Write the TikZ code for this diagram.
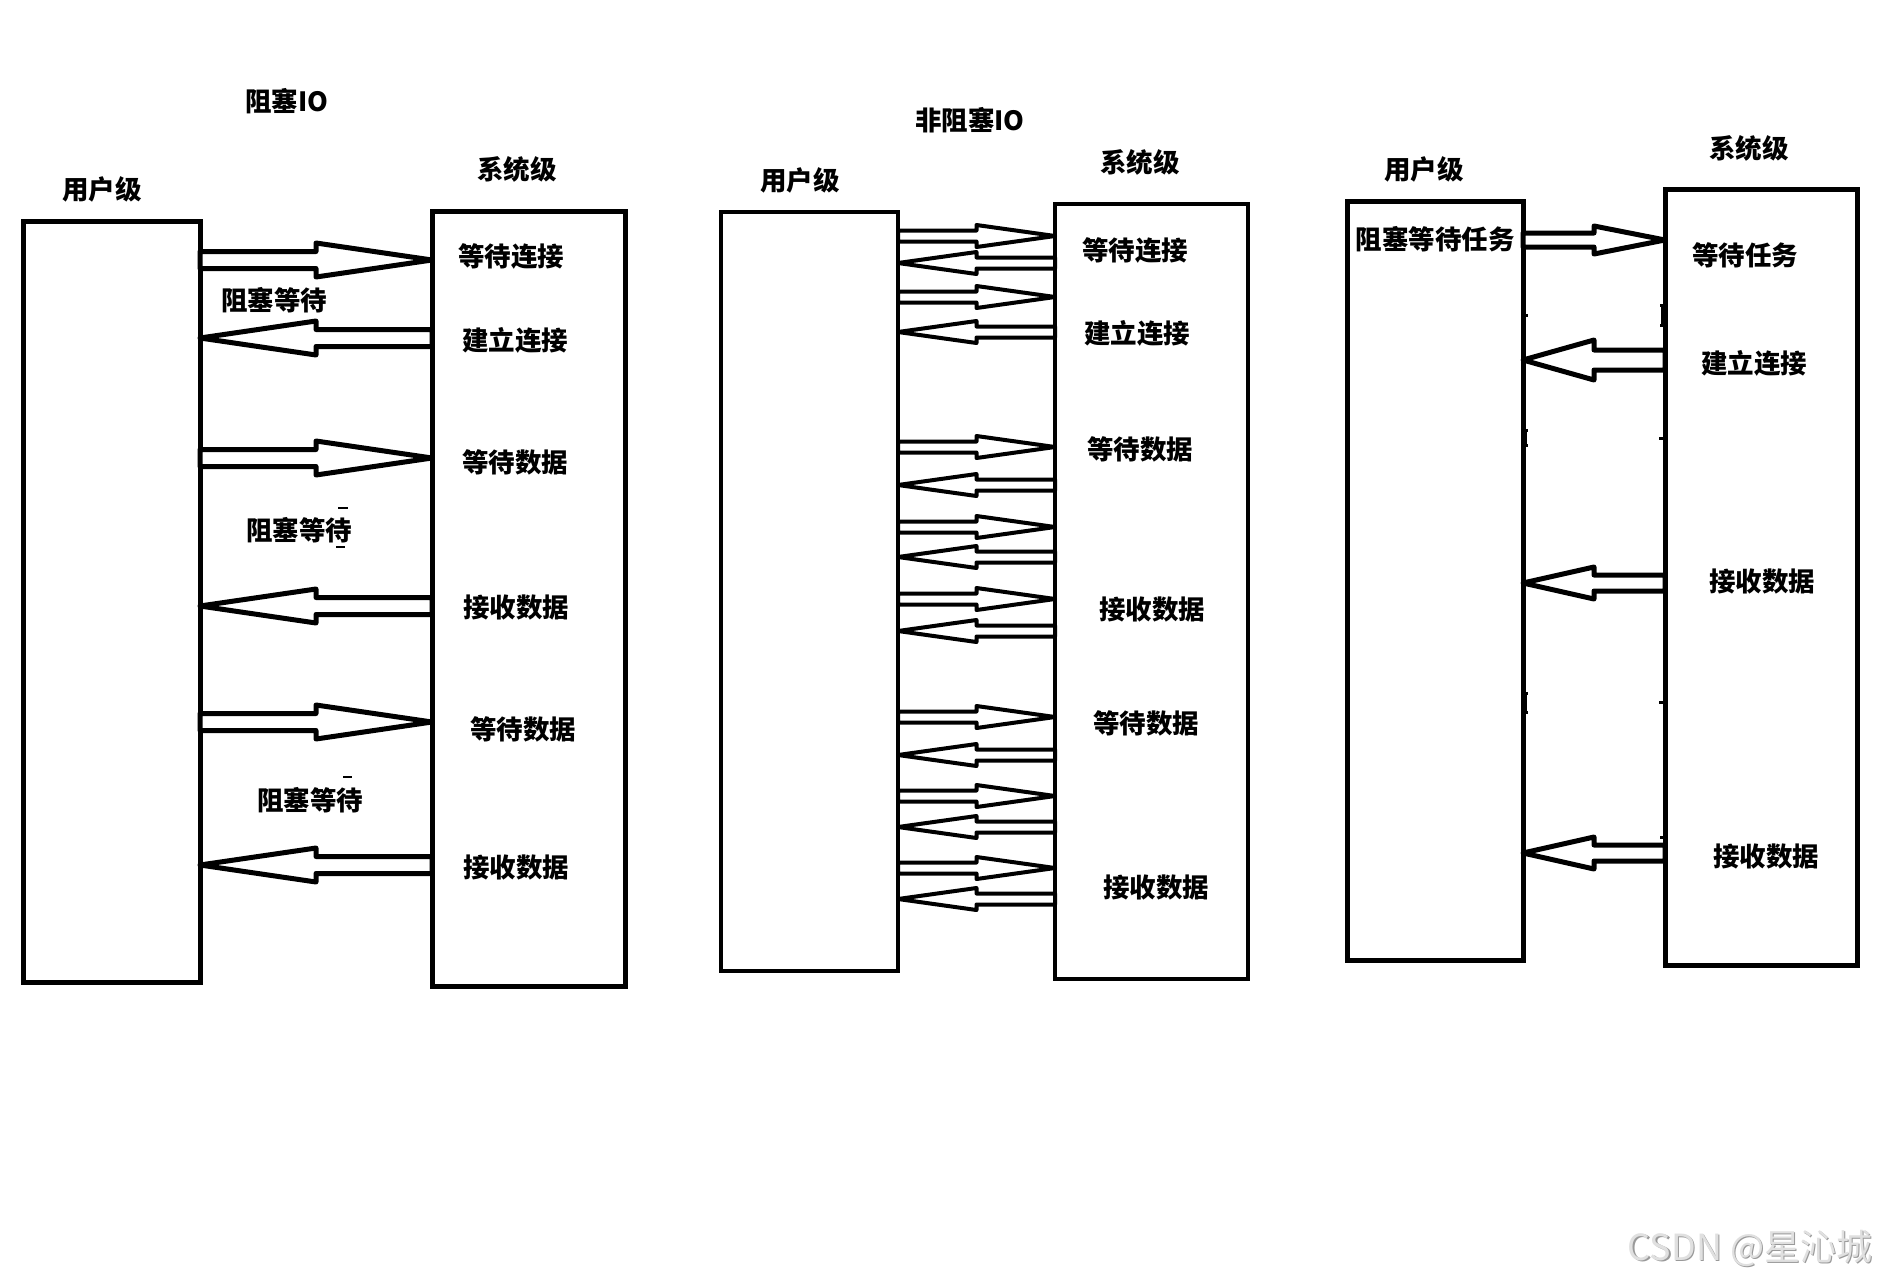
\documentclass[tikz,border=0pt]{standalone}
\usepackage{fontspec}
\newfontfamily\cjk{Noto Sans CJK SC}
\usetikzlibrary{calc}
\newcommand{\blockarr}[6]{%
  \path[barr=#1] let \p1=(#2), \p2=(#3), \p3=(0,#4), \p4=($(#2)!.5!(#3)$) in
    (\x1,\y3+#5) -- (\x4,\y3+#5) -- (\x4,\y3+#6) -- (\x2,\y3) -- (\x4,\y3-#6) -- (\x4,\y3-#5) -- (\x1,\y3-#5) -- cycle;}
\begin{document}
\begin{tikzpicture}[x=1pt,y=-1pt,
  box/.style={draw, line width=5pt, rectangle, inner sep=0pt, outer sep=0pt},
  lbl/.style={font=\cjk\bfseries\fontsize{26.5}{30}\selectfont, inner sep=0pt},
  barr/.style={draw, fill=white, line width=#1, line join=round},
  artmark/.style={line width=#1},
  artmark/.default=3pt
  ]
\fill[white] (0,0) rectangle (1877,1280);
\useasboundingbox (0,0) rectangle (1877,1280);

% ---------------- panel 1 ----------------
\node[box, minimum width=177pt, minimum height=761pt] (u1) at (111.5,601.5) {};
\node[box, minimum width=193pt, minimum height=775pt] (s1) at (528.5,598.5) {};
\node[lbl] (p1t) at (287,101) {阻塞IO};
\node[lbl] (p1u) at (102,189) {用户级};
\node[lbl] (p1s) at (517,169) {系统级};
\node[lbl] (p1a) at (511,256) {等待连接};
\node[lbl] (p1b) at (274,300) {阻塞等待};
\node[lbl] (p1c) at (515,340) {建立连接};
\node[lbl] (p1d) at (515,462) {等待数据};
\node[lbl] (p1e) at (299,530) {阻塞等待};
\node[lbl] (p1f) at (516,607) {接收数据};
\node[lbl] (p1g) at (523,729) {等待数据};
\node[lbl] (p1h) at (310,800) {阻塞等待};
\node[lbl] (p1i) at (516,867) {接收数据};
\blockarr{5pt}{u1.east}{s1.west}{260}{8.5pt}{17pt}
\blockarr{5pt}{s1.west}{u1.east}{338}{8.5pt}{17pt}
\blockarr{5pt}{u1.east}{s1.west}{458}{8.5pt}{17pt}
\blockarr{5pt}{s1.west}{u1.east}{606}{8.5pt}{17pt}
\blockarr{5pt}{u1.east}{s1.west}{722}{8.5pt}{17pt}
\blockarr{5pt}{s1.west}{u1.east}{865}{8.5pt}{17pt}
\draw[artmark=2pt] (338,508) -- (348,508);
\draw[artmark=2pt] (336,547) -- (345,547);
\draw[artmark=2pt] (343,777) -- (352,777);

% ---------------- panel 2 ----------------
\node[box, line width=4.5pt, minimum width=177pt, minimum height=759pt] (u2) at (809.5,591.5) {};
\node[box, line width=4.5pt, minimum width=193pt, minimum height=775pt] (s2) at (1151.5,591.5) {};
\node[lbl] (p2t) at (970,120) {非阻塞IO};
\node[lbl] (p2u) at (800,180) {用户级};
\node[lbl] (p2s) at (1140,162) {系统级};
\node[lbl] (p2a) at (1135,250) {等待连接};
\node[lbl] (p2b) at (1137,333) {建立连接};
\node[lbl] (p2c) at (1140,449) {等待数据};
\node[lbl] (p2d) at (1152,609) {接收数据};
\node[lbl] (p2e) at (1146,723) {等待数据};
\node[lbl] (p2f) at (1156,887) {接收数据};
\foreach \yy in {236,297,447,527,599,717,796,868}
  {\blockarr{4pt}{u2.east}{s2.west}{\yy}{5.5pt}{11pt}}
\foreach \yy in {263,332,485,557,631,755,827,899}
  {\blockarr{4pt}{s2.west}{u2.east}{\yy}{5.5pt}{11pt}}

% ---------------- panel 3 ----------------
\node[box, minimum width=176pt, minimum height=759pt] (u3) at (1435,580.5) {};
\node[box, minimum width=192pt, minimum height=776pt] (s3) at (1761,577) {};
\node[lbl] (p3u) at (1424,169) {用户级};
\node[lbl] (p3s) at (1749,148) {系统级};
\node[lbl] (p3a) at (1435,239) {阻塞等待任务};
\node[lbl] (p3b) at (1745,255) {等待任务};
\node[lbl] (p3c) at (1754,363) {建立连接};
\node[lbl] (p3d) at (1762,581) {接收数据};
\node[lbl] (p3e) at (1766,856) {接收数据};
\blockarr{5pt}{u3.east}{s3.west}{240}{7pt}{14pt}
\blockarr{5pt}{s3.west}{u3.east}{360}{10pt}{20pt}
\blockarr{5pt}{s3.west}{u3.east}{583}{8pt}{16pt}
\blockarr{5pt}{s3.west}{u3.east}{853}{8pt}{16pt}
\draw[artmark] (1523,315) -- (1528,315);
\draw[artmark] (1525,430) -- (1525,445);
\draw[artmark] (1523,430) -- (1528,430) (1523,445) -- (1528,445);
\draw[artmark] (1662,305) -- (1662,325);
\draw[artmark] (1660,305) -- (1665,305) (1660,325) -- (1665,325);
\draw[artmark] (1659,438) -- (1665,438);
\draw[artmark] (1525,693) -- (1525,712);
\draw[artmark] (1523,693) -- (1528,693) (1523,712) -- (1528,712);
\draw[artmark] (1659,702) -- (1665,702);
\draw[artmark] (1660,837) -- (1665,837) (1660,845) -- (1665,845);

% ---------------- watermark ----------------
\node[font=\cjk\fontsize{36}{40}\selectfont, text=black!40, inner sep=0pt] (wms) at (1751.5,1249.5) {CSDN @星沁城};
\node[font=\cjk\fontsize{36}{40}\selectfont, text=black!12, inner sep=0pt] (wm) at (1750,1248) {CSDN @星沁城};
\end{tikzpicture}
\end{document}
